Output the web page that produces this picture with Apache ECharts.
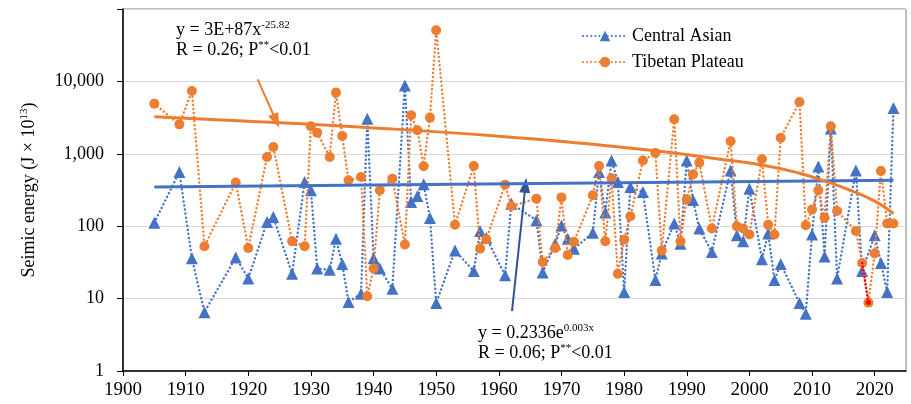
<!DOCTYPE html>
<html><head><meta charset="utf-8">
<script src="https://cdn.jsdelivr.net/npm/echarts@6/dist/echarts.min.js"></script>
<style>html,body{margin:0;padding:0;background:#fff}#c{width:911px;height:404px}</style>
</head><body><div id="c"></div>
<script>
// ---- data ----
const caYears  = [1905,1909,1911,1913,1918,1920,1923,1924,1927,1929,1930,1931,1933,1934,1935,1936,1938,1939,1940,1941,1943,1945,1946,1947,1948,1949,1950,1953,1956,1957,1958,1961,1962,1966,1967,1969,1970,1971,1972,1975,1976,1977,1978,1979,1980,1981,1983,1985,1986,1988,1989,1990,1991,1992,1994,1997,1998,1999,2000,2002,2003,2004,2005,2008,2009,2010,2011,2012,2013,2014,2017,2018,2020,2021,2022,2023];
const caValues = [112,560,36,6.5,37,19,114,134,22,408,313,26,25,67,30,9,11.7,3060,36,26,13.7,8800,216,261,379,130,8.7,46,24,86,69,21,205,121,23,57,102,67,49,81,560,155,810,408,12.3,347,297,18,42,109,57,810,230,93,44,590,75,62,330,35,79,18,30,8.7,6.2,77,670,38,2230,19,590,24,75,31,12.3,4300];

const tpYears  = [1905,1909,1911,1913,1918,1920,1923,1924,1927,1929,1930,1931,1933,1934,1935,1936,1938,1939,1940,1941,1943,1945,1946,1947,1948,1949,1950,1953,1956,1957,1958,1961,1962,1966,1967,1969,1970,1971,1972,1975,1976,1977,1978,1979,1980,1981,1983,1985,1986,1988,1989,1990,1991,1992,1994,1997,1998,1999,2000,2002,2003,2004,2005,2008,2009,2010,2011,2012,2013,2014,2017,2018,2019,2020,2021,2022,2023];
const tpValues = [4930,2550,7370,53,400,50,903,1240,62,53,2400,1960,903,7000,1760,430,478,10.8,26,313,454,56,3400,2110,672,3160,50800,105,680,49,66,375,190,240,32,50,250,40,61,267,680,62,460,22,65,137,810,1025,46,3000,62,235,520,756,93,1490,100,93,77,840,105,77,1670,5190,103,170,313,131,2400,162,86,31,8.8,42,580,109,109];

// highlighted (red) segment of the Tibetan Plateau series
const hlYears  = [2018, 2019];
const hlValues = [31, 8.8];

// fitted trend lines as drawn in the reference
const trendCAYears  = [1905, 2023];
const trendCAValues = [348, 430];
const trendTPYears  = [1905,1920,1940,1960,1975,1985,1995,2002,2008,2012,2016,2020,2023];
const trendTPValues = [3240,2820,2280,1750,1350,1100,850,700,540,420,316,222,150];

// arrows pointing to the trend lines
const arrowTPFrom = [1921.5, 10690], arrowTPTo = [1924.46, 2840];
const arrowCAFrom = [1962.1, 6.7],   arrowCATo = [1964.25, 367];

const xTicks = [1900,1910,1920,1930,1940,1950,1960,1970,1980,1990,2000,2010,2020];
const yTicks = [1,10,100,1000,10000];

const seriesNames = ['Central Asian', 'Tibetan Plateau'];
// ---------------------------------------

const zip = (a, b) => a.map((v, i) => [v, b[i]]);
const BLUE = '#4472C4', ORANGE = '#ED7D31', DARKBLUE = '#2F5597';
const FONT = '"Liberation Serif", "Times New Roman", serif';
const DOT = {type: [0.1, 4], cap: 'round', width: 2.4};

const chart = echarts.init(document.getElementById('c'), null, {renderer: 'canvas'});
chart.setOption({
  animation: false,
  backgroundColor: '#fff',
  textStyle: {fontFamily: FONT, color: '#000'},
  grid: {left: 123, right: 5, top: 9, bottom: 33, show: true, borderColor: '#7f7f7f', borderWidth: 1, containLabel: false},
  legend: {
    data: seriesNames, orient: 'vertical', left: 577, top: 22,
    itemWidth: 44, itemHeight: 13, itemGap: 8,
    textStyle: {fontFamily: FONT, fontSize: 18, color: '#000'}
  },
  xAxis: {
    type: 'value', min: 1900, max: 2025, interval: 10,
    axisLine: {lineStyle: {color: '#000', width: 1.5}},
    axisTick: {show: true, length: 5, lineStyle: {color: '#000'}, customValues: xTicks},
    axisLabel: {fontFamily: FONT, fontSize: 19, color: '#000', margin: 10, customValues: xTicks,
                formatter: v => (v % 10 === 0 ? String(v) : '')},
    splitLine: {show: false}
  },
  yAxis: {
    type: 'log', logBase: 10, min: 1, max: 100000,
    axisLine: {show: true, lineStyle: {color: '#000', width: 1.5}},
    axisTick: {show: true, length: 6, lineStyle: {color: '#000'}},
    axisLabel: {fontFamily: FONT, fontSize: 18, color: '#000', margin: 19,
                formatter: v => (yTicks.indexOf(Math.round(v)) >= 0 ? Math.round(v).toLocaleString('en-US') : '')},
    splitLine: {show: true, lineStyle: {color: '#d9d9d9', width: 1}},
    minorTick: {show: false},
    name: 'Seimic energy (J × 10{sup|13})',
    nameLocation: 'middle', nameGap: 84, nameRotate: 90,
    nameTextStyle: {fontFamily: FONT, fontSize: 18, color: '#000', lineHeight: 20,
      rich: {sup: {fontFamily: FONT, fontSize: 11, lineHeight: 11, verticalAlign: 'top', color: '#000'}}}
  },
  series: [
    {
      name: seriesNames[0], type: 'line', data: zip(caYears, caValues),
      symbol: 'triangle', symbolSize: 12, z: 3,
      lineStyle: Object.assign({color: BLUE}, DOT),
      itemStyle: {color: BLUE}
    },
    {
      name: seriesNames[1], type: 'line', data: zip(tpYears, tpValues),
      symbol: 'circle', symbolSize: 10, z: 4,
      lineStyle: Object.assign({color: ORANGE}, DOT),
      itemStyle: {color: ORANGE}
    },
    {
      name: 'hl', type: 'line', z: 5,
      data: hlYears.map((y, i) => ({value: [y, hlValues[i]], symbol: i === hlYears.length - 1 ? 'circle' : 'none', symbolSize: 5})),
      lineStyle: {type: [0.1, 3.5], cap: 'round', width: 2.4, color: '#ff0000'},
      itemStyle: {color: '#ff0000'}
    },
    {
      name: 'trendCA', type: 'line', data: zip(trendCAYears, trendCAValues),
      symbol: 'none', z: 6,
      lineStyle: {type: 'solid', width: 3, color: BLUE},
      markLine: {
        silent: true, symbol: ['none', 'triangle'], symbolSize: [11, 15],
        lineStyle: {color: DARKBLUE, width: 2, type: 'solid'}, label: {show: false},
        data: [[{coord: arrowCAFrom}, {coord: arrowCATo}]]
      }
    },
    {
      name: 'trendTP', type: 'line', data: zip(trendTPYears, trendTPValues),
      symbol: 'none', smooth: true, z: 6,
      lineStyle: {type: 'solid', width: 3, color: ORANGE},
      markLine: {
        silent: true, symbol: ['none', 'triangle'], symbolSize: [11, 15],
        lineStyle: {color: ORANGE, width: 2, type: 'solid'}, label: {show: false},
        data: [[{coord: arrowTPFrom}, {coord: arrowTPTo}]]
      }
    }
  ],
  graphic: [
    {
      type: 'text', left: 176, top: 20, z: 10,
      style: {
        text: '{m|y = 3E+87x}{s|-25.82}\n{m|R = 0.26; P}{s|**}{m|<0.01}',
        fill: '#000', font: '18px ' + FONT,
        rich: {
          m: {fontFamily: FONT, fontSize: 18, lineHeight: 20, fill: '#000'},
          s: {fontFamily: FONT, fontSize: 11, lineHeight: 11, verticalAlign: 'top', fill: '#000'}
        }
      }
    },
    {
      type: 'text', left: 478, top: 323, z: 10,
      style: {
        text: '{m|y = 0.2336e}{s|0.003x}\n{m|R = 0.06; P}{s|**}{m|<0.01}',
        fill: '#000', font: '18px ' + FONT,
        rich: {
          m: {fontFamily: FONT, fontSize: 18, lineHeight: 20, fill: '#000'},
          s: {fontFamily: FONT, fontSize: 11, lineHeight: 11, verticalAlign: 'top', fill: '#000'}
        }
      }
    }
  ]
});
</script>
</body></html>
